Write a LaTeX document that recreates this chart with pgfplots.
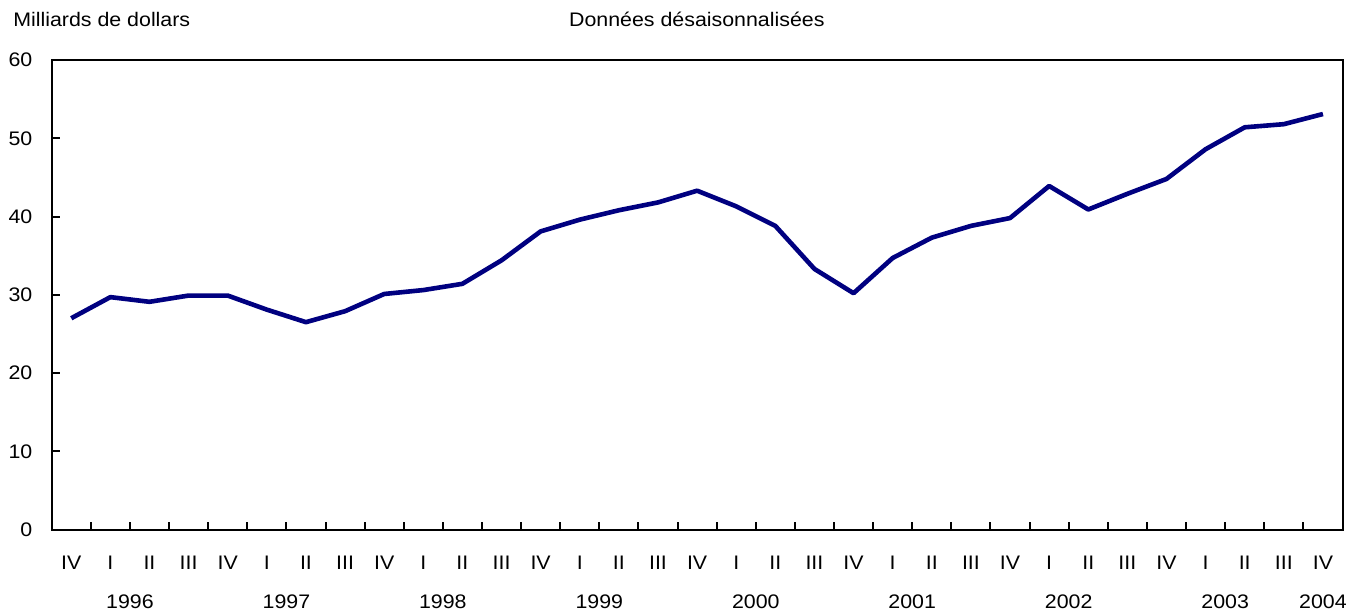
\documentclass[border=0pt]{standalone}
\usepackage{fontspec}
\setmainfont{Liberation Sans}[FakeStretch=1.09]
\usepackage{pgfplots}
\pgfplotsset{compat=1.18}
\definecolor{navyline}{RGB}{0,0,128}
\begin{document}
\fontsize{9.8}{11}\selectfont
\begin{tikzpicture}
\path[use as bounding box] (-25.85pt,-42.25pt) rectangle (653.6pt,264.75pt);
\begin{axis}[
  at={(0,0)}, anchor=south west,
  scale only axis, width=645.35pt, height=234.75pt,
  xmin=-0.5, xmax=32.5, ymin=0, ymax=60,
  ytick={0,10,...,60},
  xtick={-0.5,0.5,...,32.5},
  xticklabels={},
  extra x ticks={0,1,...,32},
  extra x tick labels={IV,I,II,III,IV,I,II,III,IV,I,II,III,IV,I,II,III,IV,I,II,III,IV,I,II,III,IV,I,II,III,IV,I,II,III,IV},
  extra x tick style={major tick length=0pt},
  tick align=inside,
  xtick pos=bottom, ytick pos=left,
  major tick length=4pt,
  axis line style={line width=1pt, black},
  every tick/.style={black, line width=1pt},
  /pgf/number format/assume math mode=true,
  tick label style={font=\fontsize{9.8}{11}\selectfont},
  yticklabel style={anchor=east, inner sep=0pt, xshift=-9.5pt},
  xticklabel style={anchor=base, inner sep=0pt, yshift=-19.75pt},
  clip=false,
]
\addplot[navyline, line width=2.3pt, line join=round] coordinates {
(0,27.0) (1,29.7) (2,29.1) (3,29.9) (4,29.9) (5,28.1) (6,26.5) (7,27.9)
(8,30.1) (9,30.6) (10,31.4) (11,34.4) (12,38.1) (13,39.6) (14,40.8) (15,41.8)
(16,43.3) (17,41.3) (18,38.8) (19,33.3) (20,30.2) (21,34.7) (22,37.3) (23,38.8)
(24,39.8) (25,43.9) (26,40.9) (27,42.9) (28,44.8) (29,48.6) (30,51.4) (31,51.8)
(32,53.1)
};
\foreach \yr/\pos in {1996/1.5,1997/5.5,1998/9.5,1999/13.5,2000/17.5,2001/21.5,2002/25.5,2003/29.5,2004/32}{
  \edef\temp{\noexpand\node[anchor=base, inner sep=0pt, yshift=-39.25pt] at (axis cs:\pos,0) {\yr};}
  \temp
}
\end{axis}
\node[anchor=base west, inner sep=0pt] at (-19.4pt,251.5pt) {Milliards de dollars};
\node[anchor=base west, inner sep=0pt] at (258.5pt,251.5pt) {Données désaisonnalisées};
\end{tikzpicture}
\end{document}
